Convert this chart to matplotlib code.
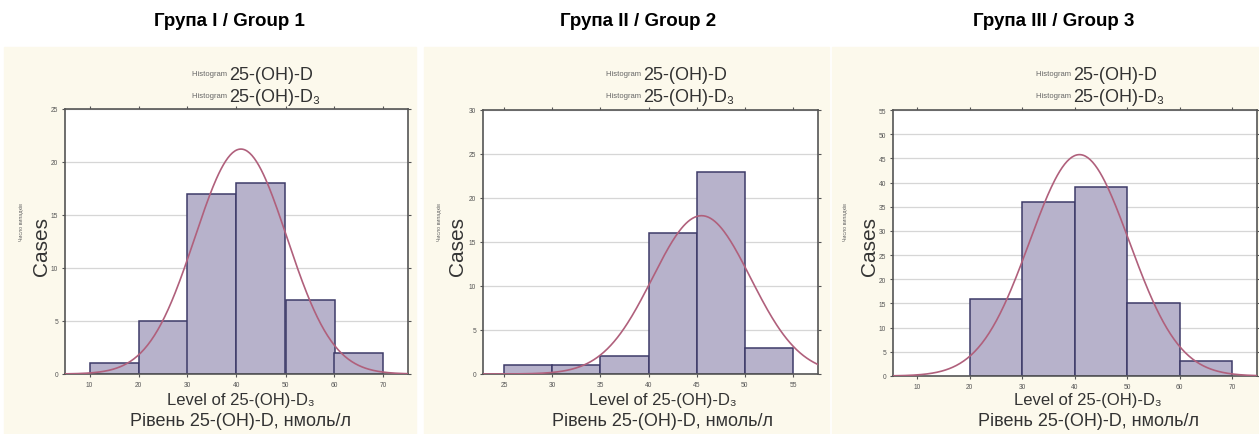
import numpy as np
import matplotlib
matplotlib.use("Agg")
import matplotlib.pyplot as plt
from matplotlib.patches import Rectangle

plt.rcParams['font.family'] = ['Liberation Sans', 'DejaVu Sans']

# data
titles = ["Група I / Group 1", "Група II / Group 2", "Група III / Group 3"]

edges1 = [10, 20, 30, 40, 50, 60, 70]
counts1 = [1, 5, 17, 18, 7, 2]
edges2 = [25, 30, 35, 40, 45, 50, 55]
counts2 = [1, 1, 2, 16, 23, 3]
edges3 = [20, 30, 40, 50, 60, 70]
counts3 = [16, 36, 39, 15, 3]

# fitted normal curve parameters (mean, sd)
fit1 = (40.9, 9.4)
fit2 = (45.5, 5.1)
fit3 = (40.9, 9.5)

xticks1 = [10, 20, 30, 40, 50, 60, 70]
xticks2 = [25, 30, 35, 40, 45, 50, 55]
xticks3 = [10, 20, 30, 40, 50, 60, 70]
ylims = [25, 30, 55]
xlims = [(5, 75), (22.8, 57.6), (5.4, 74.7)]

W, H = 1259, 435
fig = plt.figure(figsize=(W / 100, H / 100), dpi=100)
fig.patch.set_facecolor("white")

cream = "#fcf9ec"
bar_fc = "#b7b2cb"
bar_ec = "#3d3a68"
curve_c = "#b0607c"
grid_c = "#d6d6d6"

def px(x, y):
    return x / W, 1 - y / H

# cream panels behind each chart
for x0, x1 in [(4, 416), (424, 829), (832, 1259)]:
    fig.patches.append(Rectangle((x0 / W, 0), (x1 - x0) / W, 1 - 48 / H,
                                 transform=fig.transFigure, color=cream, zorder=-10))

# axes boxes in pixels: left, top, right, bottom
boxes = [(65, 110, 408, 375), (483, 111, 818, 375), (893, 111, 1257, 377)]

panels = [(edges1, counts1, fit1, xticks1),
          (edges2, counts2, fit2, xticks2),
          (edges3, counts3, fit3, xticks3)]

title_x = [229, 638, 1054]
legend_x = [229, 643, 1073]
xlab_x = [241, 663, 1088]
cases_x = [42, 458, 869]
tiny_x = [22, 440, 845]

for i, ((edges, counts, fit, xt), box) in enumerate(zip(panels, boxes)):
    l, t, r, b = box
    ax = fig.add_axes([l / W, 1 - b / H, (r - l) / W, (b - t) / H])
    ax.set_facecolor("white")
    widths = np.diff(edges)
    ax.bar(edges[:-1], counts, width=widths, align="edge",
           color=bar_fc, edgecolor=bar_ec, linewidth=1.1, zorder=2)
    mu, sd = fit
    n = sum(counts)
    w = widths[0]
    xs = np.linspace(xlims[i][0], xlims[i][1], 300)
    ys = n * w / (sd * np.sqrt(2 * np.pi)) * np.exp(-0.5 * ((xs - mu) / sd) ** 2)
    ax.plot(xs, ys, color=curve_c, lw=1.2, zorder=3)
    ax.set_xlim(*xlims[i])
    ax.set_ylim(0, ylims[i])
    ax.set_xticks(xt)
    ax.set_yticks(np.arange(0, ylims[i] + 1, 5))
    ax.yaxis.grid(True, color=grid_c, lw=0.9, zorder=0)
    ax.set_axisbelow(True)
    ax.tick_params(labelsize=4.8, labelcolor="#555555", length=2.5, width=0.8,
                   color="#555555", top=True, right=True, direction="out", pad=2.5)
    for s in ax.spines.values():
        s.set_color("#555555")
        s.set_linewidth(1.2)

    # group title
    fig.text(*px(title_x[i], 22), titles[i], ha="center", va="center",
             fontsize=13.5, fontweight="bold",
             family=['Liberation Sans Narrow', 'Liberation Sans', 'DejaVu Sans'])

    # legend lines
    for yy, lab in [(75, "25-(OH)-D"), (97, "25-(OH)-D\u2083")]:
        fig.text(*px(legend_x[i], yy), "Histogram ", ha="right", va="center",
                 fontsize=5.5, color="#666666")
        fig.text(*px(legend_x[i], yy), lab, ha="left", va="center",
                 fontsize=13, color="#333333")

    # axis labels
    fig.text(*px(xlab_x[i], 401), "Level of 25-(OH)-D\u2083", ha="center",
             va="center", fontsize=12, color="#333333")
    fig.text(*px(xlab_x[i], 422), "Рівень 25-(OH)-D, нмоль/л", ha="center",
             va="center", fontsize=13, color="#333333")
    fig.text(*px(cases_x[i], 247), "Cases", ha="center", va="center",
             rotation=90, fontsize=15, color="#333333")
    fig.text(*px(tiny_x[i], 222), "Число випадків", ha="center", va="center",
             rotation=90, fontsize=3.8, color="#666666")

fig.savefig("out.png", dpi=100, facecolor=fig.get_facecolor())
